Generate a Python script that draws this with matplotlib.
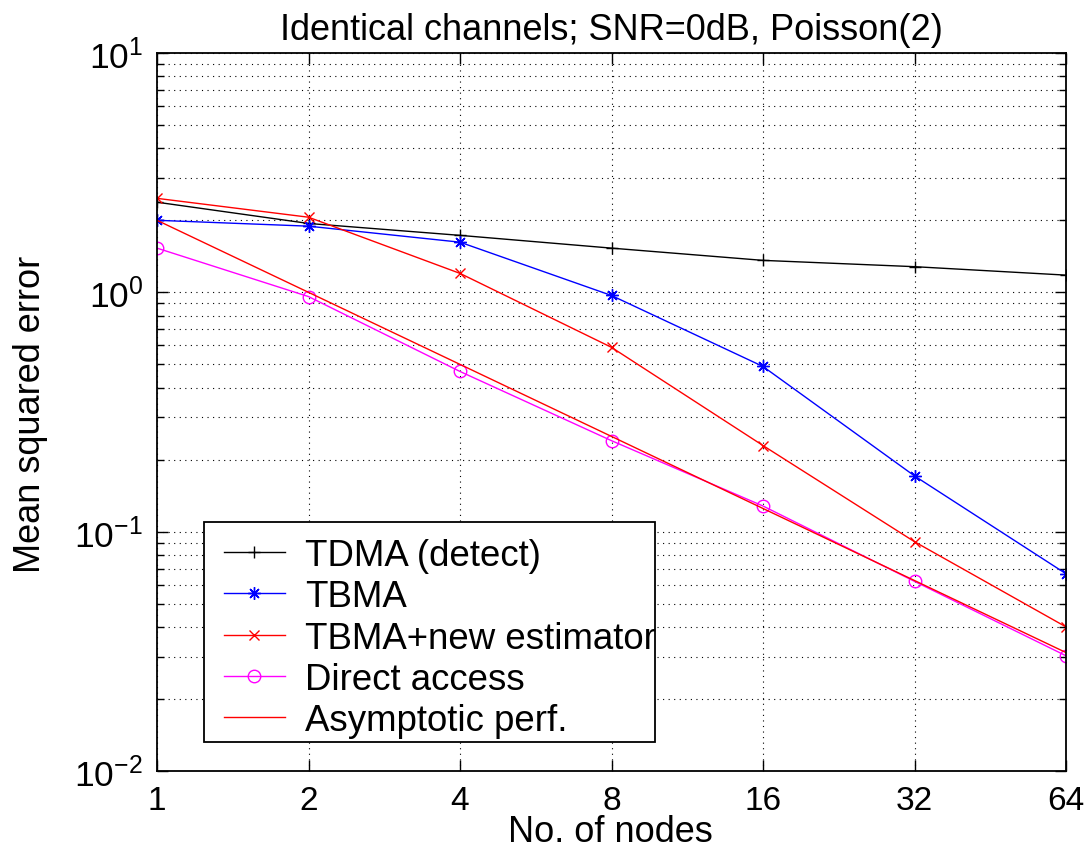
import matplotlib
matplotlib.use("Agg")
import matplotlib.pyplot as plt
from matplotlib.patches import Rectangle
from matplotlib.ticker import FixedLocator, FixedFormatter, LogLocator, NullFormatter

plt.rcParams['font.family'] = ['Liberation Sans', 'DejaVu Sans']
plt.rcParams['mathtext.fontset'] = 'custom'
plt.rcParams['mathtext.rm'] = 'Liberation Sans'
plt.rcParams['mathtext.it'] = 'Liberation Sans'

nodes = [1, 2, 4, 8, 16, 32, 64]
x_ticklabels = ['1', '2', '4', '8', '16', '32', '64']
tdma_detect = [2.38, 1.94, 1.73, 1.53, 1.36, 1.28, 1.18]
tbma = [2.0, 1.89, 1.62, 0.97, 0.49, 0.171, 0.0667]
tbma_new = [2.47, 2.06, 1.20, 0.589, 0.229, 0.0908, 0.040]
direct_access = [1.53, 0.96, 0.467, 0.24, 0.128, 0.062, 0.0303]
asymptotic = [2.0, 1.0, 0.5, 0.25, 0.125, 0.0625, 0.03125]
labels = ['TDMA (detect)', 'TBMA', 'TBMA+new estimator', 'Direct access', 'Asymptotic perf.']

W, H = 1086, 854
fig = plt.figure(figsize=(W / 100, H / 100), dpi=100)
ax_l, ax_r, ax_t, ax_b = 157, 1066, 54, 772
ax = fig.add_axes([ax_l / W, 1 - ax_b / H, (ax_r - ax_l) / W, (ax_b - ax_t) / H])
aw, ah = ax_r - ax_l, ax_b - ax_t

lw = 1.0
ax.plot(nodes, tdma_detect, color='black', marker='+', ms=9, mew=1.0, lw=lw, label=labels[0])
ax.plot(nodes, tbma, color='blue', marker=(8, 2, 0), ms=9, mew=1.0, lw=lw, label=labels[1])
ax.plot(nodes, tbma_new, color='red', marker='x', ms=7, mew=1.0, lw=lw, label=labels[2])
ax.plot(nodes, direct_access, color='magenta', marker='o', ms=9, mfc='none', mew=1.0, lw=lw, label=labels[3])
ax.plot(nodes, asymptotic, color='red', lw=lw, label=labels[4])

ax.set_xscale('log', base=2)
ax.set_yscale('log')
ax.set_xlim(1, 64)
ax.set_ylim(1e-2, 1e1)
ax.xaxis.set_major_locator(FixedLocator(nodes))
ax.xaxis.set_major_formatter(FixedFormatter(x_ticklabels))
ax.xaxis.set_minor_locator(FixedLocator([]))
ax.yaxis.set_major_locator(LogLocator(base=10, numticks=10))
ax.yaxis.set_minor_locator(LogLocator(base=10, subs=range(2, 10), numticks=10))
ax.yaxis.set_minor_formatter(NullFormatter())

ax.grid(True, which='major', linestyle=(0, (1, 4)), color='black', lw=0.8)
ax.grid(True, which='minor', axis='y', linestyle=(0, (1, 4)), color='black', lw=0.8)

ax.tick_params(which='both', direction='in', top=True, right=True, width=1)
ax.tick_params(axis='x', labelsize=24)
ax.tick_params(axis='y', labelsize=25.5)
ax.tick_params(which='major', length=8, pad=10)
ax.tick_params(which='minor', length=5)
for s in ax.spines.values():
    s.set_linewidth(1.3)

ax.set_title('Identical channels; SNR=0dB, Poisson(2)', fontsize=26, pad=10)
ax.set_xlabel('No. of nodes', fontsize=26, va='center')
ax.set_ylabel('Mean squared error', fontsize=26, va='center')
ax.xaxis.set_label_coords((610 - ax_l) / aw, (ax_b - 833) / ah)
ax.yaxis.set_label_coords((30 - ax_l) / aw, (ax_b - 414) / ah)

# legend frame (MATLAB style: text runs up to the right border)
frame = Rectangle(((204 - ax_l) / aw, (ax_b - 743) / ah), (655 - 204) / aw, (743 - 523) / ah,
                  transform=ax.transAxes, facecolor='white', edgecolor='black',
                  lw=1.3, zorder=4.9, clip_on=False)
ax.add_patch(frame)
leg = ax.legend(loc='lower left', bbox_to_anchor=((224 - ax_l) / aw, (ax_b - 739) / ah),
                fontsize=26.4, frameon=False,
                handlelength=1.66, handletextpad=0.55, borderpad=0, labelspacing=0.17,
                borderaxespad=0)
leg.set_zorder(5)

fig.savefig('out.png', dpi=100)
